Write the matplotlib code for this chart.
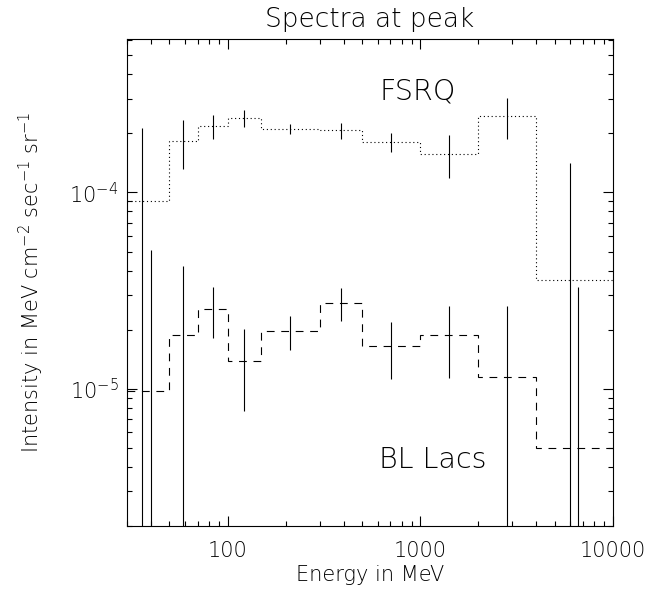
import matplotlib
matplotlib.use('Agg')
import matplotlib.pyplot as plt
from matplotlib.ticker import LogLocator, FixedLocator, FixedFormatter, NullFormatter

# Energy bins in MeV
bin_edges = [30, 50, 70, 100, 150, 300, 500, 1000, 2000, 4000, 10000]

# FSRQ spectrum
fsrq_x = [35.8, 59, 84, 122, 212, 387, 707, 1414, 2828, 5985]
fsrq_val = [9.0e-5, 1.83e-4, 2.17e-4, 2.39e-4, 2.10e-4, 2.07e-4, 1.81e-4, 1.57e-4, 2.46e-4, 3.6e-5]
fsrq_err = [1.24e-4, 5.2e-5, 3.0e-5, 2.4e-5, 1.25e-5, 1.9e-5, 2.0e-5, 3.9e-5, 5.8e-5, 1.06e-4]

# BL Lac spectrum
bl_x = [39.9, 59, 84, 122, 212, 387, 707, 1414, 2828, 6590]
bl_val = [9.7e-6, 1.87e-5, 2.56e-5, 1.39e-5, 1.97e-5, 2.73e-5, 1.65e-5, 1.89e-5, 1.15e-5, 5.0e-6]
bl_err = [4.1e-5, 2.34e-5, 7.4e-6, 6.2e-6, 3.9e-6, 5.2e-6, 5.3e-6, 7.6e-6, 1.49e-5, 2.8e-5]

# Axis ticks
x_ticks = [100, 1000, 10000]
x_labels = ['100', '1000', '10000']
y_ticks = [1e-5, 1e-4]
y_labels = [r'$10^{-5}$', r'$10^{-4}$']

# thin strokes, closer to the vector font of the original
plt.rcParams['font.family'] = ['DejaVu Sans']
plt.rcParams['font.weight'] = 'light'
plt.rcParams['axes.titleweight'] = 'light'
plt.rcParams['axes.labelweight'] = 'light'
plt.rcParams['mathtext.fontset'] = 'custom'
plt.rcParams['mathtext.rm'] = 'DejaVu Sans:light'
plt.rcParams['mathtext.it'] = 'DejaVu Sans:light'
plt.rcParams['mathtext.bf'] = 'DejaVu Sans:light'
plt.rcParams['mathtext.default'] = 'rm'

LW = 0.8

fig = plt.figure(figsize=(6.6, 5.92), dpi=100)
ax = fig.add_axes([0.192, 0.1115, 0.737, 0.8226])

# Spectra as histograms
ax.stairs(fsrq_val, bin_edges, baseline=None, color='black', lw=LW,
          linestyle=(0, (1, 2.5)))
ax.stairs(bl_val, bin_edges, baseline=None, color='black', lw=LW,
          linestyle=(0, (7, 6)))

# Error bars, vertical only
ax.errorbar(fsrq_x, fsrq_val, yerr=fsrq_err, fmt='none', ecolor='black',
            elinewidth=LW, capsize=0)
ax.errorbar(bl_x, bl_val, yerr=bl_err, fmt='none', ecolor='black',
            elinewidth=LW, capsize=0)

ax.set_xscale('log')
ax.set_yscale('log')
ax.set_xlim(30, 10000)
ax.set_ylim(2e-6, 6.05e-4)

# Ticks on every side, pointing in
ax.xaxis.set_major_locator(FixedLocator(x_ticks))
ax.xaxis.set_major_formatter(FixedFormatter(x_labels))
ax.xaxis.set_minor_locator(LogLocator(base=10, subs=range(2, 10)))
ax.xaxis.set_minor_formatter(NullFormatter())
ax.yaxis.set_major_locator(FixedLocator(y_ticks))
ax.yaxis.set_major_formatter(FixedFormatter(y_labels))
ax.yaxis.set_minor_locator(LogLocator(base=10, subs=range(2, 10)))
ax.yaxis.set_minor_formatter(NullFormatter())
ax.tick_params(which='both', direction='in', top=True, right=True,
               width=LW, labelsize=15)
ax.tick_params(which='major', length=7.2)
ax.tick_params(which='minor', length=3.6)
ax.tick_params(axis='x', which='major', pad=11)
ax.tick_params(axis='y', which='major', pad=6)
for s in ax.spines.values():
    s.set_linewidth(LW)

ax.set_title('Spectra at peak', fontsize=19, pad=8.5)
ax.set_xlabel('Energy in MeV', fontsize=15, labelpad=3)
ax.set_ylabel(r'Intensity in MeV cm$^{-2}$ sec$^{-1}$ sr$^{-1}$', fontsize=15)
ax.yaxis.set_label_coords(-0.166, 0.5)

ax.text(0.519, 0.875, 'FSRQ', transform=ax.transAxes, fontsize=20.5)
ax.text(0.519, 0.119, 'BL Lacs', transform=ax.transAxes, fontsize=20.5)

fig.savefig('out.png', dpi=100)
